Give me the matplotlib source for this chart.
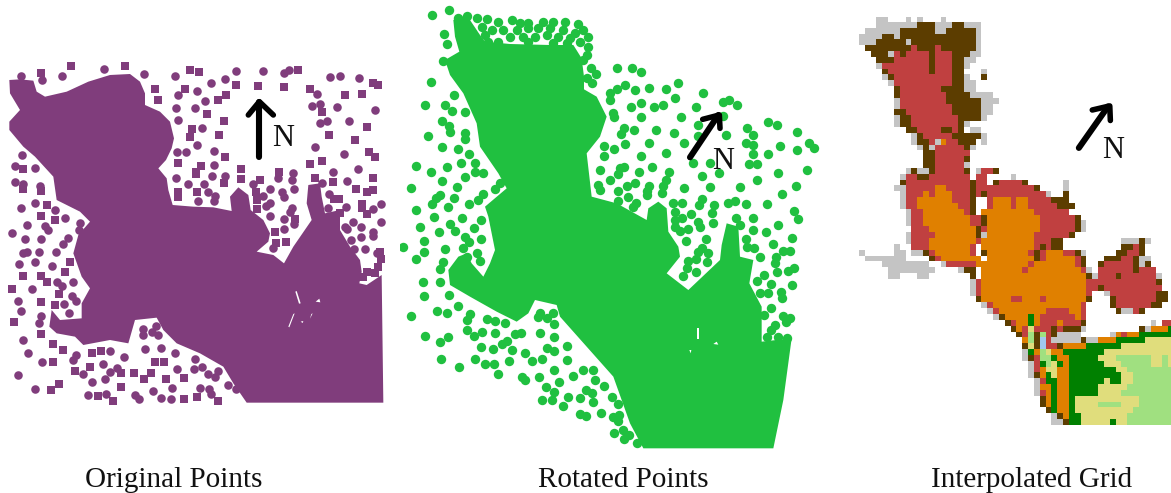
import numpy as np
import matplotlib
matplotlib.use('Agg')
import matplotlib.pyplot as plt
from matplotlib.colors import ListedColormap
from matplotlib.patches import Polygon

W, H = 1171, 493

labels = ['Original Points', 'Rotated Points', 'Interpolated Grid']

# panel 1, coordinates (3 units = 1 pixel)
lake1 = [(28,90),(60,88),(100,92),(110,125),(135,140),(200,125),(265,95),(330,75),(390,72),(420,95),
         (435,130),(435,165),(480,185),(510,215),(522,265),(515,295),(498,330),(475,355),(500,385),(505,420),
         (518,465),(580,470),(640,472),(695,483),(690,440),(715,412),(745,435),(752,480),(790,510),(810,550),
         (805,575),(770,605),(820,615),(852,640),(880,590),(935,510),(920,460),(925,405),(960,400),(965,440),
         (975,490),(1020,480),(1020,540),(1050,590),(1080,630),(1085,665),(1078,700),(1100,705),(1145,675),
         (1150,1058),(740,1058),(700,1000),(670,950),(600,910),(530,880),(490,840),(470,803),(405,810),(385,880),
         (330,870),(250,885),(225,860),(170,850),(148,830),(155,780),(180,810),(245,805),(245,760),(270,715),
         (245,680),(220,610),(235,555),(270,515),(240,485),(170,450),(160,380),(105,320),(70,290),(28,240),
         (28,215),(60,180),(30,130)]
holes1 = [[(886,725),(890,723),(902,760),(897,761)], [(947,755),(958,746),(961,757)],
          [(880,792),(884,790),(868,832),(865,830)], [(902,815),(910,813),(908,819)], [(934,792),(938,790),(930,806)]]

circles1 = [(62,77),(127,90),(185,77),(313,57),(432,72),(526,77),(632,98),(674,86),(709,64),(790,64),(852,68),
            (867,60),(990,81),(1019,77),(1078,84),(590,123),(533,135),(615,153),(527,175),(585,175),(950,132),
            (937,167),(961,162),(1011,170),(1126,180),(533,209),(607,234),(961,218),(981,213),(1048,213),(590,286),
            (641,302),(530,307),(557,307),(946,290),(1033,311),(67,315),(45,349),(105,353),(641,345),(1075,357),
            (527,383),(636,379),(675,379),(880,370),(833,383),(999,367),(45,397),(68,403),(119,408),(564,401),
            (611,401),(760,401),(876,390),(811,417),(882,417),(965,400),(1041,392),(625,426),(790,438),(846,425),
            (852,442),(645,438),(641,453),(593,452),(987,433),(105,460),(62,474),(166,481),(810,460),(798,468),
            (876,473),(871,487),(1037,470),(985,473),(1119,477),(1143,463),(195,503),(811,498),(853,507),(882,523),
            (1060,515),(1143,515),(80,524),(135,527),(145,541),(241,520),(237,540),(853,537),(1035,530),(1042,538),
            (1083,530),(37,549),(75,567),(122,566),(204,563),(190,583),(1083,560),(1120,545),(1118,558),(1052,570),
            (820,595),(70,610),(82,606),(118,605),(168,605),(1062,596),(1095,596),(1132,609),(58,643),(105,635),
            (155,648),(172,697),(186,707),(220,695),(97,716),(215,737),(228,753),(55,753),(192,762),(62,784),
            (207,788),(122,797),(118,818),(467,827),(430,838),(430,856),(455,845),(475,855),(70,869),(84,908),
            (229,914),(220,930),(126,937),(330,904),(436,898),(484,894),(526,908),(372,920),(309,942),(585,927),
            (607,950),(530,957),(352,955),(330,967),(582,958),(654,962),(623,971),(645,980),(55,975),(248,973),
            (314,988),(275,996),(685,1004),(105,1018),(516,1014),(599,1014),(707,1018),(627,1017),(632,1033),
            (458,1022),(263,1036),(319,1033),(406,1036),(416,1048),(484,1044),(513,1048)]
squares1 = [(122,68),(214,48),(376,48),(571,60),(598,67),(893,60),(708,106),(775,109),(853,112),(465,116),(556,118),
            (677,135),(930,118),(1036,135),(1085,132),(1120,100),(1135,105),(475,151),(654,151),(622,192),(966,187),
            (673,213),(1102,231),(577,237),(571,260),(657,254),(986,254),(1066,271),(1108,305),(1126,322),(675,322),
            (966,332),(930,341),(535,339),(604,348),(589,365),(589,373),(70,357),(722,388),(781,390),(673,400),
            (945,384),(999,396),(1119,384),(838,365),(722,358),(68,418),(122,423),(535,425),(535,440),(590,425),
            (767,425),(771,450),(1069,417),(1100,426),(1118,420),(1002,446),(1018,448),(142,465),(772,477),(122,498),
            (165,510),(1085,462),(1085,475),(1100,492),(1020,490),(884,507),(826,545),(827,578),(859,575),(210,635),
            (194,665),(70,678),(122,679),(141,695),(35,716),(176,733),(122,757),(165,765),(41,815),(122,852),(158,882),
            (190,900),(277,910),(303,903),(466,935),(492,935),(270,951),(158,935),(226,962),(363,970),(403,969),
            (453,969),(431,986),(498,988),(553,984),(176,1001),(152,1020),(363,1010),(294,1038),(340,1052),(553,1046),
            (590,1040),(655,1052),(1100,665),(1090,680),(1135,650),(1125,670),(1143,628),(1140,605)]

# panel 2, same kind of coordinates
lake2 = [(135,180),(178,155),(165,110),(160,60),(200,45),(240,105),(255,125),(330,132),(450,135),(520,135),
         (545,175),(552,230),(552,268),(590,290),(620,350),(600,410),(560,460),(575,590),(650,610),(740,660),
         (745,625),(775,605),(800,625),(805,695),(835,740),(840,770),(800,820),(865,870),(960,780),(965,735),
         (980,670),(1015,680),(1020,770),(1060,780),(1048,850),(1085,920),(1085,1025),(1175,1015),(1150,1200),
         (1120,1345),(730,1345),(690,1270),(640,1130),(560,1040),(480,950),(470,915),(405,900),(385,940),(350,965),
         (290,935),(210,890),(150,855),(145,810),(175,770),(200,760),(215,790),(250,830),(270,790),(285,750),
         (265,650),(255,620),(320,565),(295,520),(240,440),(230,370),(190,280),(150,225)]
holes2 = [[(892,985),(898,985),(898,1018),(892,1018)], [(940,1032),(950,1025),(955,1034)], [(868,1050),(874,1050),(872,1060)]]
circles2 = [(175,55),(200,47),(230,55),(260,58),(295,67),(335,60),(360,70),(385,70),(430,65),(460,65),(495,65),(535,72),
            (550,90),(565,110),(245,80),(275,90),(310,90),(350,90),(385,85),(415,85),(450,85),(490,90),(525,100),
            (265,125),(295,125),(385,125),(460,130),(500,130),(565,140),(550,180),(255,105),(330,110),(370,110),(405,110),
            (440,105),(475,110),(510,115),(540,125),(560,165),(572,205),(560,235),(575,250),(97,46),(148,29),(131,101),(140,132),
            (130,182),(93,246),(162,285),(76,314),(136,315),(157,332),(195,335),(127,362),(148,378),(150,397),(195,400),
            (195,418),(85,408),(127,441),(175,446),(208,463),(47,497),(140,502),(182,488),(225,488),(225,515),(250,518),
            (93,515),(195,532),(127,544),(300,548),(285,568),(34,565),(170,561),(250,583),(235,600),(120,585),(108,595),
            (97,612),(162,595),(145,620),(208,612),(47,629),(102,650),(187,655),(243,659),(60,680),(150,672),(166,692),
            (222,685),(118,697),(72,723),(195,710),(208,725),(243,718),(10,740),(72,755),(136,748),(190,745),(230,760),
            (47,778),(240,782),(128,785),(120,808),(200,772),(212,815),(68,847),(120,847),(72,888),(148,884),(175,918),
            (110,932),(140,940),(34,948),(210,942),(200,960),(260,957),(285,962),(315,970),(200,990),(245,995),(222,1008),
            (285,1000),(345,1002),(362,998),(76,1008),(145,1012),(120,1025),(322,1022),(305,1033),(242,1042),(280,1046),
            (335,1050),(420,940),(415,952),(460,940),(440,955),(462,972),(420,1000),(462,1012),(500,1037),(440,1045),
            (462,1053),(375,1058),(123,1076),(225,1076),(178,1101),(255,1092),(282,1092),(327,1084),(395,1084),(427,1076),
            (502,1080),(293,1123),(365,1132),(375,1140),(418,1132),(462,1110),(548,1110),(578,1110),(518,1128),(477,1145),
            (586,1140),(612,1158),(437,1160),(463,1175),(425,1200),(455,1200),(505,1192),(490,1217),(540,1195),(558,1170),
            (575,1180),(580,1205),(637,1190),(655,1212),(603,1238),(540,1243),(557,1247),(640,1250),(658,1245),(655,1262),
            (643,1298),(670,1290),(688,1306),(672,1318),(712,1328),
            (587,222),(650,204),(697,204),(723,216),(833,250),(798,268),(748,263),(706,271),(676,254),(650,268),(630,280),
            (630,300),(824,293),(909,280),(968,305),(987,300),(1012,315),(888,322),(790,315),(761,322),(723,310),(693,322),
            (640,340),(642,350),(723,352),(842,352),(968,348),(1105,365),(1131,374),(893,375),(672,383),(662,403),(702,391),
            (769,391),(821,400),(893,408),(978,404),(1042,383),(1058,404),(1190,396),(1228,429),(1242,443),(612,438),(642,446),
            (676,433),(748,429),(851,429),(1037,429),(1060,436),(1140,438),(1190,451),(612,468),(723,468),(798,459),(1060,462),
            (1105,463),(880,489),(930,489),(1048,493),(1072,493),(1220,510),(600,510),(672,500),(660,505),(655,522),(757,502),
            (718,515),(808,515),(905,527),(1135,518),(958,520),(630,540),(1072,540),(595,556),(600,570),(680,557),(706,548),
            (748,557),(798,540),(790,557),(742,572),(740,585),(785,580),(655,574),(685,590),(853,565),(930,561),(1020,561),
            (1187,557),(1145,582),(655,603),(708,608),(698,622),(820,608),(846,608),(907,597),(897,615),(985,608),(1005,603),
            (1037,612),(1102,612),(943,616),(935,638),(1183,632),(1195,656),(825,635),(872,642),(825,660),(846,655),(825,680),
            (940,668),(895,665),(900,682),(1058,655),(1008,655),(1020,675),(1135,676),(840,692),(865,688),(1058,690),(1097,697),
            (858,723),(917,718),(1175,714),(1037,718),(1118,732),(905,745),(895,755),(1040,740),(1062,745),(1148,753),(1170,753),
            (925,760),(1128,772),(1080,770),(1125,790),(865,782),(888,778),(920,785),(1132,815),(1165,813),(1183,803),(860,805),
            (850,828),(888,815),(1093,825),(1070,842),(1113,852),(1175,855),(1080,880),(1105,880),(1142,875),(1147,895),(1113,923),
            (1148,948),(1170,953),(1158,965),(1093,945),(1125,975),(1112,990),(1100,1010),(1135,1010),(1160,1015)]

# panel 3, one string per grid row: class letter + column range, later runs overwrite earlier ones
grid_rows = [
    'g3-4 g8 g10 g14',
    'g3-9 b10-12 g13-15 b16-17 g18-20',
    'g1-6 b7-12 g13-14 b15-19 g20',
    'g0-3 b4-5 g6 b7-19 g20',
    'g0-2 b3-7 g8 b9-19 g20',
    'b1-8 r9 b10-12 r13 b14-19 g20',
    'b2-4 g5 r6 b7 r8-11 b12 r13-15 b16-18 g19-20',
    'b3-5 r6-11 b12 r13-15 b16-17 g18-19',
    'g3 r4-11 b12 r13-15 b16-17 g18',
    'b4 r5-11 b12 r13-15 b16-17 g21',
    'g4 b5 r6-15 b16-17 g18 b21',
    'g5 r6-15 b16-17 g18-19',
    'b6 r7-13 b14-17 g18-19',
    'b6 r7-14 b15-18 g19-22',
    'g6 r7-14 b15-20 g21-23',
    'g6 r7-15 b16-20 g21-22',
    'b6-7 r8-15 b16-20 g21-22',
    'g6 b7-8 r9-16 b17-20 g21',
    'g6 b7-8 r9-16 b17 g18',
    'b8-9 r10-13 b14-15 r16 b17 g19-20',
    'g9 b10 r11-15 b16-20 g21',
    'g9 b10-11 r12 g13 o14 r15-16 b17-19 g21',
    'g10 b11 g12 r13-17 b18 g19',
    'b11-12 r13-18',
    'b11-12 r13-17 b18',
    'b11-12 r13-17 g18',
    'g8 b9 g10-11 b12 r13-17 b18 g20 r21-22 b23',
    'g7 r8-9 b10-11 r12-18 r20-21 g26',
    'b7 r8-18 b19 r20-21 b23 r24-27 b28 g35',
    'g6-7 r8-12 o13-14 r15-18 b19 r20-29 b30 g35',
    'g7 r8-10 o11 r12 o13-15 r16-18 b19 r20 b21 r22-31 g32 b35',
    'g7 r8-9 o10-15 r16-18 b19 r22 o23-25 r26 o27-28 r29-32 b33-35',
    'g7 r8-9 o10-16 r17-18 b19 r22 o23-26 r26 o27-28 r29-33 b34-36',
    'g8 r9-10 o11-17 r18 b19 o21-29 r30-35',
    'g8 r9-10 o11-18 r19-20 b21 o22-30 r31-36 b37',
    'g8 r9-10 o11-18 r19-20 b21 o22-30 r31-36 b37 g38',
    'r9-11 o12-19 b20 r21 o22-30 r31-36 b37 g38',
    'g8 r9-12 o13-19 b20 g21 o22-29 r30-35 b36',
    'g8 r9-11 o12-19 r20 o21-29 r30-32 b33-34 g45-47 b48 g49',
    'g6 r9-11 o12-18 r19 o21-29 r30 b31 r32 b33 b34 b45-46 r47 b48',
    'g0 g6-7 g9-10 b11 r12 o13-18 r19 b21 o22-28 r29 b30 r31 o32-34 r35-36 b37 g38 g44 b44-45 r46-47 b48',
    'g1-5 g6-7 b12 r13 o14-19 o20 o22-29 b30 r31 o32-36 r37 b38 b42-44 r45-46 b47 g48-49',
    'g4-11 g14 r15-18 r19 o20-28 r29 o30-36 r37 b38 b41 r42-46 b47 g48 b49',
    'g5-12 g17 b18-19 o21-27 r28 o29-37 r38 g39 r41-46 b47 r48-50',
    'g5-6 g10-11 b19 o21-38 b39 g40 r41-43 b44 r45-50 g51',
    'g19 r20 o21-38 r39-50 b51',
    'g19 r20 o21-38 r39-40 b41 r42-51',
    'g19 r20 o21-38 r39 g42 r43-50 b51-52',
    'b20 o21-25 r26-27 o28-30 r31 o32-38 b39 b43 r44-50 b51-52',
    'g21 r22 o23-37 r38 b43 r44-49 b50-51',
    'g22 r23 o24-32 r32-36 o36-37 r38 b44 g45-46 r47 b48',
    'g23 b24 o25-28 G29 o30 r31-36 o37 r38',
    'b25 r26 o27-28 G29 o30 r31-33 o34 r35-37 b38 g50 r52-53',
    'b26 o27 r28 y29 r30-32 b33 r34 b35-37 g38 b48 g49 o50-52 G53',
    'b27 r28 l29 b30 l31 r32 b33 g34-37 g43 o44 r45 o46-47 G48-53',
    'o28 l29 b30 B31 r32 g33-37 b38 g39-40 o41-43 G44-48 y49-53',
    'b28 y29 b30 B31 r32-33 b34 o35-38 G39-44 y45-53',
    'g28 G29 o30 l31 y32 o33-34 G35-41 y42-53',
    'g28 b29 r30 l31-32 G33 o34-35 G36-40 y41-43 l44-49 y50-51 l52 y53',
    'g29 r30 G31 l32 y33 G34 o35 G36-41 y42-44 l45-49 y50-51 l52 y53',
    'g29 r30 o31 y32-33 o34-35 G36-43 y44-45 l46-53',
    'g29 b30 o31 G32 y33 o34-35 G36-44 y45-46 l47-53',
    'g30 r31 G32-33 o34-35 G36-41 y42 G43-44 y45-46 l47-53',
    'g30 o31-32 G33 o34-35 G36-40 y41-45 l46-53',
    'g30 r31 o32 G33 o34-35 G36-40 y41-44 l45-53',
    'b31 o32 G33 o34-35 G36 y37-47 l48-53',
    'b31 o32 G33 o34-35 G36 y37-40 l41-44 y45-47 l48-53',
    'b32 G33 o34-35 G36 y37-46 l47-53',
    'g33 b34 o35 G36-37 y38-45 l46-53',
    'g33-34 b35 G36-37 y38-42 G43 y44-45 l46-53',
]
grid_classes = '.grobGylB'
grid_colours = ['#ffffff', '#c4c4c4', '#c04040', '#e08000', '#5c3d00', '#008000', '#e0dd7c', '#a0e080', '#a0c8f0']

# north arrows: shaft and barbs in each panel's own coordinates
arrow1 = [(778,322),(778,155)]
barbs1 = [(745,195),(778,155),(820,195)]
north1 = (848,267)
arrow2 = [(870,472),(955,345)]
barbs2 = [(908,358),(958,345),(960,385)]
north2 = (970,484)
arrow3 = [(37.7,22.5),(42.7,15.4)]
barbs3 = [(40.0,16.0),(43.0,15.3),(43.1,17.8)]
north3 = (43.6,22.9)


def panel(x, y, w, h, xlim, ylim):
    ax = fig.add_axes([x/W, 1-(y+h)/H, w/W, h/H])
    ax.set_xlim(0, xlim)
    ax.set_ylim(ylim, 0)
    ax.axis('off')
    return ax


def north_arrow(ax, shaft, barbs, pos):
    ax.plot(*zip(*shaft), color='black', lw=4.4, solid_capstyle='round', zorder=5)
    ax.plot(*zip(*barbs), color='black', lw=4.0, solid_capstyle='round', solid_joinstyle='round', zorder=5)
    ax.text(pos[0], pos[1], 'N', family='Liberation Serif', fontsize=22, color='#111111',
            ha='center', va='center', zorder=6)


def parse_grid(rows):
    out = np.zeros((len(rows), 54), dtype=int)
    for r, line in enumerate(rows):
        for run in line.split():
            parts = run[1:].split('-')
            out[r, int(parts[0]):int(parts[-1])+1] = grid_classes.index(run[0])
    return out


fig = plt.figure(figsize=(W/100, H/100), dpi=100)

purple = '#803d7c'
ax1 = panel(0, 50, 395, 360, 1185, 1080)
ax1.add_patch(Polygon(lake1, closed=True, fc=purple, ec='none'))
for h in holes1:
    ax1.add_patch(Polygon(h, closed=True, fc='white', ec='none'))
ax1.scatter(*zip(*circles1), s=38, color=purple, linewidths=0)
ax1.scatter(*zip(*squares1), s=28, marker='s', color=purple, linewidths=0)
north_arrow(ax1, arrow1, barbs1, north1)

green = '#20c040'
ax2 = panel(400, 0, 425, 455, 1275, 1365)
ax2.add_patch(Polygon(lake2, closed=True, fc=green, ec='none'))
for h in holes2:
    ax2.add_patch(Polygon(h, closed=True, fc='white', ec='none'))
ax2.scatter(*zip(*circles2), s=46, color=green, linewidths=0)
north_arrow(ax2, arrow2, barbs2, north2)

ax3 = panel(859, 16.67, 312, 408.3, 53.5, 70)
ax3.imshow(parse_grid(grid_rows), cmap=ListedColormap(grid_colours), vmin=0, vmax=len(grid_colours)-1,
           extent=(0, 54, 70, 0), interpolation='nearest', aspect='auto')
ax3.set_xlim(0, 53.5)
ax3.set_ylim(70, 0)
north_arrow(ax3, arrow3, barbs3, north3)

for text, x in zip(labels, [174, 623, 1032]):
    fig.text(x/W, 1-480/H, text, family='Liberation Serif', fontsize=21, color='#111111', ha='center', va='center')

fig.savefig('out.png', dpi=100)
